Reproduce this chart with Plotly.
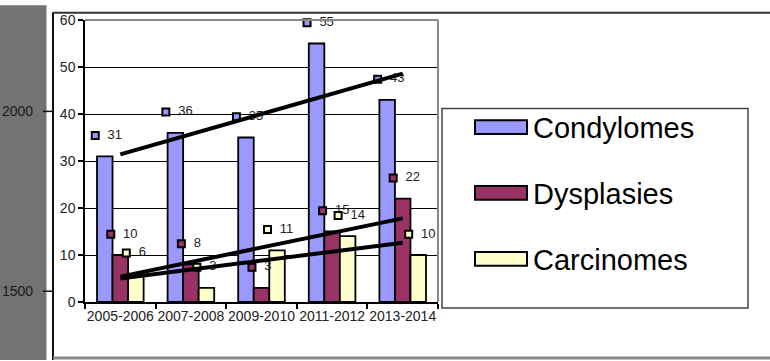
import numpy as np
import plotly.graph_objects as go

# ---------------- data ----------------
periods = ["2005-2006", "2007-2008", "2009-2010", "2011-2012", "2013-2014"]
condylomes = [31, 36, 35, 55, 43]
dysplasies = [10, 8, 3, 15, 22]
carcinomes = [6, 3, 11, 14, 10]
series_names = ["Condylomes", "Dysplasies", "Carcinomes"]
y_tick_values = [0, 10, 20, 30, 40, 50, 60]
bg_tick_labels = ["2000", "1500"]

series_values = [condylomes, dysplasies, carcinomes]
colors = ["#9999FF", "#993366", "#FFFFCC"]

# ---------------- geometry ----------------
W, H = 770, 361
L, R, T, B = 85, 332, 15, 59
PW, PH = W - L - R, H - T - B
FONT = "Liberation Sans, Arial, sans-serif"


def px_x(px):
    return (px - L) / PW


def px_y(py):
    return (H - B - py) / PH


x_pos = np.arange(len(periods))
bargap = 0.34
bw = (1 - bargap) / 3
offsets = [(k - 1) * bw for k in range(3)]

fig = go.Figure()

# bars
for name, vals, col in zip(series_names, series_values, colors):
    fig.add_trace(go.Bar(
        x=x_pos, y=vals, name=name,
        marker=dict(color=col, line=dict(color="black", width=1.8)),
        showlegend=False,
    ))

# data labels (legend key square + value)
label_dy = 4.4
for vals, col, off in zip(series_values, colors, offsets):
    fig.add_trace(go.Scatter(
        x=x_pos + off - 0.135, y=np.array(vals) + label_dy,
        mode="markers",
        marker=dict(symbol="square", size=7, color=col,
                    line=dict(color="black", width=2)),
        showlegend=False, hoverinfo="skip", cliponaxis=False,
    ))
    fig.add_trace(go.Scatter(
        x=x_pos + off + 0.04, y=np.array(vals) + label_dy,
        mode="text", text=[str(v) for v in vals],
        textposition="middle right",
        textfont=dict(family=FONT, size=13, color="#222222"),
        showlegend=False, hoverinfo="skip", cliponaxis=False,
    ))

# linear trend lines
for vals in series_values:
    slope, intercept = np.polyfit(x_pos, vals, 1)
    xs = np.array([x_pos[0], x_pos[-1]])
    fig.add_trace(go.Scatter(
        x=xs, y=slope * xs + intercept, mode="lines",
        line=dict(color="black", width=4),
        showlegend=False, hoverinfo="skip",
    ))

shapes = []
annotations = []

# background (other chart behind) : gray strip, ticks and labels
shapes.append(dict(type="rect", xref="paper", yref="paper",
                   x0=px_x(0), x1=px_x(46.5), y0=px_y(H), y1=px_y(0),
                   fillcolor="#737373", line=dict(width=0), layer="below"))
for lab, py in zip(bg_tick_labels, [108, 291]):
    annotations.append(dict(xref="paper", yref="paper", x=px_x(35), y=px_y(py),
                            xanchor="right", yanchor="middle", showarrow=False,
                            text=lab, font=dict(family=FONT, size=14, color="#1a1a1a")))
    shapes.append(dict(type="line", xref="paper", yref="paper",
                       x0=px_x(43), x1=px_x(53), y0=px_y(py), y1=px_y(py),
                       line=dict(color="#111111", width=1.5)))

# chart frame lines
shapes.append(dict(type="line", xref="paper", yref="paper",
                   x0=px_x(53), x1=px_x(53), y0=px_y(7), y1=px_y(H),
                   line=dict(color="#111111", width=2)))
shapes.append(dict(type="line", xref="paper", yref="paper",
                   x0=px_x(53), x1=px_x(W), y0=px_y(7.5), y1=px_y(7.5),
                   line=dict(color="#333333", width=2)))
shapes.append(dict(type="line", xref="paper", yref="paper",
                   x0=px_x(53), x1=px_x(W), y0=px_y(359), y1=px_y(359),
                   line=dict(color="#8a8a8a", width=3)))

# plot area top / right border (gray)
shapes.append(dict(type="line", xref="paper", yref="paper",
                   x0=0, x1=1, y0=1, y1=1, line=dict(color="#8a8a8a", width=2)))
shapes.append(dict(type="line", xref="paper", yref="paper",
                   x0=1, x1=1, y0=0, y1=1, line=dict(color="#8a8a8a", width=2)))

# custom legend
shapes.append(dict(type="rect", xref="paper", yref="paper",
                   x0=px_x(442), x1=px_x(748), y0=px_y(308), y1=px_y(105),
                   fillcolor="white", line=dict(color="#444444", width=1.5)))
for k, (name, col) in enumerate(zip(series_names, colors)):
    cy = 124 + k * 67
    shapes.append(dict(type="rect", xref="paper", yref="paper",
                       x0=px_x(475), x1=px_x(527), y0=px_y(cy + 7), y1=px_y(cy - 7),
                       fillcolor=col, line=dict(color="black", width=2)))
    annotations.append(dict(xref="paper", yref="paper", x=px_x(531), y=px_y(cy + 1),
                            xanchor="left", yanchor="middle", showarrow=False,
                            text=name, font=dict(family=FONT, size=29, color="black")))

fig.update_layout(
    width=W, height=H,
    margin=dict(l=L, r=R, t=T, b=B, pad=0),
    paper_bgcolor="white", plot_bgcolor="white",
    barmode="group", bargap=bargap, bargroupgap=0,
    showlegend=False,
    shapes=shapes, annotations=annotations,
    xaxis=dict(
        range=[-0.5, len(periods) - 0.5],
        tickvals=list(x_pos), ticktext=periods,
        ticks="", showgrid=False, zeroline=False,
        showline=True, linecolor="black", linewidth=1.5,
        tickfont=dict(family=FONT, size=14, color="#222222"),
        minor=dict(tickvals=[i - 0.5 for i in range(len(periods) + 1)],
                   ticks="outside", ticklen=5, tickcolor="black", tickwidth=1.5,
                   showgrid=False),
        fixedrange=True,
    ),
    yaxis=dict(
        range=[0, 60], tickvals=y_tick_values,
        ticks="outside", ticklen=5, tickcolor="black", tickwidth=1.5,
        showgrid=True, gridcolor="black", gridwidth=1,
        zeroline=False, showline=True, linecolor="black", linewidth=1.5,
        tickfont=dict(family=FONT, size=14, color="#222222"),
        fixedrange=True,
    ),
)

fig.write_html("out.html")
